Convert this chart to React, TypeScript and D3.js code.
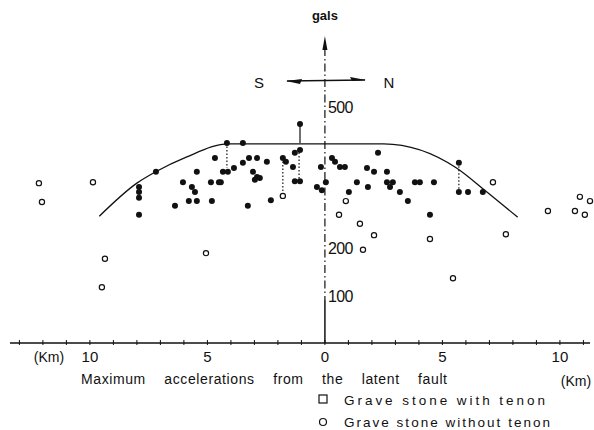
import React from 'react';
import * as d3 from 'd3';

// envelope of maximum accelerations (km from fault, gals)
const envelopeKm = [-9.6, -8.0, -7.2, -5.9, -4.1, 2.5, 5.6, 6.8, 8.2];
const envelopeGals = [268, 338, 362, 393, 421, 421, 370, 323, 266];

// grave stones with tenon (filled marks)
const tenonKm = [
  -7.19, -7.91, -7.91, -7.91, -7.91, -4.68, -5.45, -6.04, -4.85, -4.51, -5.66, -5.53, -5.79, -5.45, -4.81, -6.38,
  -4.17, -3.49, -3.49, -3.23, -2.89, -2.47, -4.34, -4.13, -3.87, -4.43, -3.06, -2.89, -2.98, -2.77, -3.28, -2.3,
  -1.79, -1.66, -1.36, -1.28, -1.06, -1.06, -1.06, -1.28, -0.17, 0.04, -0.34, -0.13, 0.3, 0.43, 0.64, 0.85,
  2.26, 1.79, 2.09, 2.64, 1.36, 1.83, 2.64, 2.77, 2.89, 3.19, 3.83, 4.04, 4.64, 1.02, 3.53, 4.47,
  5.7, 5.7, 6.09, 6.72,
];
const tenonGals = [
  362, 330, 319, 307, 271, 391, 362, 340, 340, 340, 330, 319, 300, 300, 300, 290,
  423, 423, 381, 391, 391, 383, 362, 362, 370, 340, 362, 351, 345, 349, 290, 302,
  391, 383, 372, 342, 342, 463, 408, 402, 372, 340, 330, 323, 391, 383, 372, 372,
  402, 370, 362, 362, 340, 330, 340, 330, 340, 319, 340, 340, 340, 319, 300, 271,
  381, 319, 319, 319,
];

// grave stones without tenon (open circles)
const plainKm = [
  -9.87, -12.17, -12.04, -9.36, -9.49, -5.06, 0.6, 1.49, 2.09, 1.62, 4.47, 7.7, 5.45, 7.15,
  9.49, 10.64, 10.85, 11.28, 11.06, 0.89, -1.79,
];
const plainGals = [
  340, 338, 298, 178, 118, 190, 271, 252, 228, 197, 220, 230, 137, 340,
  279, 279, 309, 300, 271, 300, 311,
];

// dotted ranges
const rangeKm = [-4.17, -1.79, -1.1, 5.7];
const rangeTop = [423, 391, 410, 381];
const rangeBottom = [370, 311, 345, 323];

// solid stem
const stemKm = [-1.06];
const stemTop = [463];
const stemBottom = [423];

const xTickValues = [-10, -5, 0, 5, 10];
const yTickValues = [100, 200, 500];
const minorTicks = d3.range(-13, 12, 1);

const title = 'Maximum accelerations from the latent fault';
const legendLabels = ['Grave stone with tenon', 'Grave stone without tenon'];

const App = () => {
  const x = d3.scaleLinear().domain([-13.4, 11.28]).range([10, 590]);
  const y = d3.scaleLinear().domain([0, 500]).range([343, 106.5]);
  const font = '"Liberation Sans", Arial, sans-serif';

  const envelope = d3
    .line<number>()
    .x((d, i) => x(envelopeKm[i]))
    .y((d) => y(d))
    .curve(d3.curveMonotoneX);

  const x0 = x(0);

  return (
    <svg
      width={594}
      height={430}
      style={{ position: 'absolute', left: 0, top: 0, background: '#fff' }}
      fontFamily={font}
    >
      {/* x axis */}
      <line x1={10} x2={590} y1={y(0)} y2={y(0)} stroke="#111" strokeWidth={1.4} />
      {minorTicks.map((t) => (
        <line key={t} x1={x(t)} x2={x(t)} y1={y(0) - 3} y2={y(0) + 2} stroke="#111" strokeWidth={1} />
      ))}
      {xTickValues.map((t) => (
        <text key={t} x={x(t)} y={362} textAnchor="middle" fontSize={15} fill="#111">
          {Math.abs(t)}
        </text>
      ))}
      <text x={49} y={362} textAnchor="middle" fontSize={14} fill="#111">(Km)</text>
      <text x={576} y={386} textAnchor="middle" fontSize={14} fill="#111">(Km)</text>

      {/* y axis */}
      <line x1={x0} x2={x0} y1={48} y2={300} stroke="#111" strokeWidth={1.2} strokeDasharray="8,3,1.5,3" />
      <line x1={x0} x2={x0} y1={300} y2={y(0)} stroke="#111" strokeWidth={1.5} />
      <path d={`M${x0},36 L${x0 - 2.5},50 L${x0 + 2.5},50 Z`} fill="#111" />
      <text x={x0} y={20} textAnchor="middle" fontSize={13} fontWeight="bold" fill="#111">gals</text>
      {yTickValues.map((t) => (
        <text key={t} x={x0 + 3} y={y(t) + 6} fontSize={16} fill="#111" letterSpacing={-0.6}>
          {t}
        </text>
      ))}

      {/* S / N arrow */}
      <line x1={287} x2={365} y1={81} y2={80} stroke="#111" strokeWidth={1.3} />
      <path d="M286,81 L302,79 L300,84 Z" fill="#111" />
      <path d="M366,80 L350,77 L352,81 Z" fill="#111" />
      <text x={259} y={88} textAnchor="middle" fontSize={15} fill="#111">S</text>
      <text x={389} y={88} textAnchor="middle" fontSize={15} fill="#111">N</text>

      {/* envelope */}
      <path d={envelope(envelopeGals) || ''} fill="none" stroke="#111" strokeWidth={1.3} />

      {/* ranges */}
      {rangeKm.map((k, i) => (
        <line
          key={i}
          x1={x(k)}
          x2={x(k)}
          y1={y(rangeTop[i])}
          y2={y(rangeBottom[i])}
          stroke="#111"
          strokeWidth={1.2}
          strokeDasharray="1.5,2"
        />
      ))}
      {stemKm.map((k, i) => (
        <line key={i} x1={x(k)} x2={x(k)} y1={y(stemTop[i])} y2={y(stemBottom[i])} stroke="#111" strokeWidth={1.2} />
      ))}

      {/* points */}
      {tenonKm.map((k, i) => (
        <circle key={i} cx={x(k)} cy={y(tenonGals[i])} r={3} fill="#111" />
      ))}
      {plainKm.map((k, i) => (
        <circle key={i} cx={x(k)} cy={y(plainGals[i])} r={2.6} fill="#fff" stroke="#111" strokeWidth={1.2} />
      ))}

      {/* title */}
      <text x={81} y={384} fontSize={14} fill="#111" wordSpacing={14} letterSpacing={0.6}>
        {title}
      </text>

      {/* legend */}
      <rect x={319} y={395} width={8} height={8} fill="none" stroke="#111" strokeWidth={1.2} />
      <text x={344} y={405} fontSize={13.5} fill="#111" textLength={201} lengthAdjust="spacing">
        {legendLabels[0]}
      </text>
      <circle cx={323} cy={422} r={3.5} fill="none" stroke="#111" strokeWidth={1.2} />
      <text x={344} y={427} fontSize={13.5} fill="#111" textLength={206} lengthAdjust="spacing">
        {legendLabels[1]}
      </text>
    </svg>
  );
};

export default App;
